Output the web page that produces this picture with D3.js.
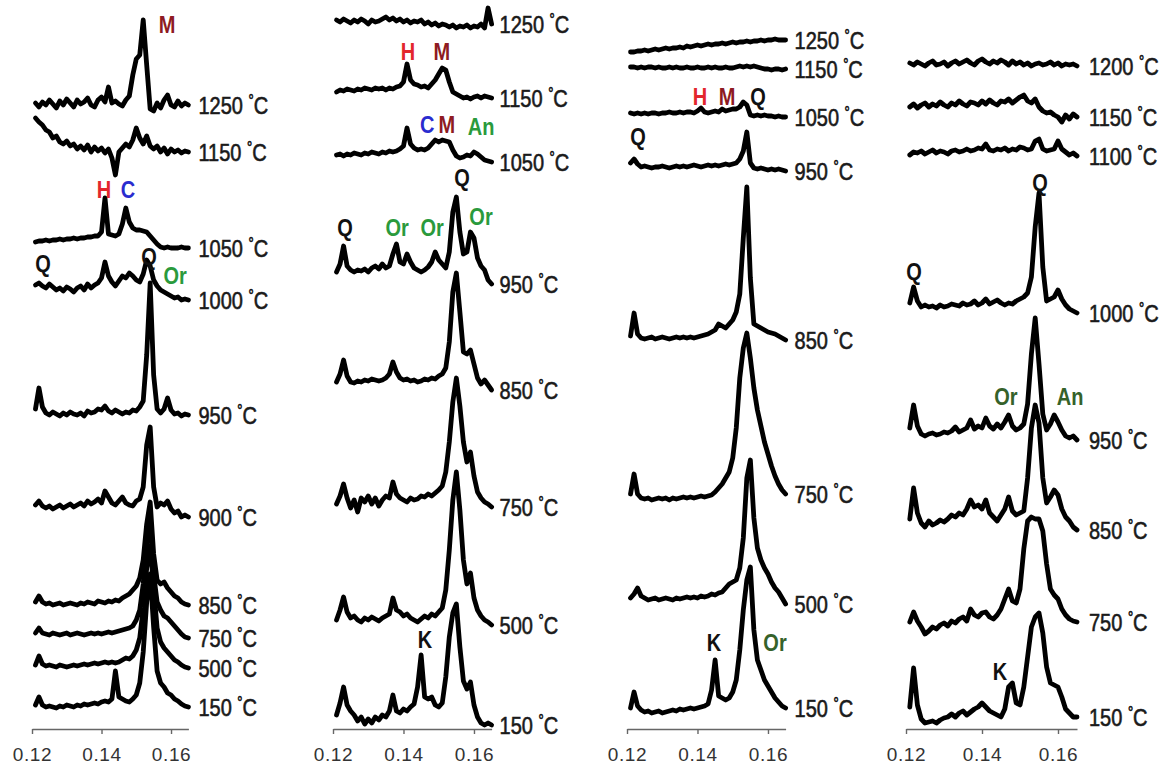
<!DOCTYPE html>
<html>
<head>
<meta charset="utf-8">
<script src="https://cdn.jsdelivr.net/npm/d3@7/dist/d3.min.js"></script>
<style>
body { margin: 0; background: #fff; }
.axis path, .axis line { stroke: #666; stroke-width: 1.4; }
.axis text { font-family: "Liberation Sans", Arial, sans-serif; font-size: 19px; fill: #333; letter-spacing: 0.6px; }
.curve { fill: none; stroke: #000; stroke-width: 4.8; stroke-linejoin: round; stroke-linecap: round; }
.temp { font-family: "Liberation Sans", Arial, sans-serif; font-size: 20px; fill: #1a1a1a; stroke: #1a1a1a; stroke-width: 0.5; }
.mineral { font-family: "Liberation Sans", Arial, sans-serif; font-size: 20px; font-weight: bold; }
</style>
</head>
<body>
<div class="chart"></div>
<script>
// sample positions (q), shared by every curve
var qGrid = [0.121,0.122,0.123,0.124,0.125,0.126,0.127,0.128,0.129,0.130,0.131,0.132,0.133,0.134,0.135,
             0.136,0.137,0.138,0.139,0.140,0.141,0.142,0.143,0.144,0.145,0.146,0.147,0.148,0.149,0.150,
             0.151,0.152,0.153,0.154,0.155,0.156,0.157,0.158,0.159,0.160,0.161,0.162,0.163,0.164,0.165];
var qTicks = [0.12, 0.14, 0.16];

// ---- panel 1 ----
var p1Temps = ["1250","1150","1050","1000","950","900","850","750","500","150"];
var p1Offsets = [620,573,477,425,310,210,121,91,57,18];
var p1_1250 = [2,-2,3,0,5,1,-3,4,0,6,2,-2,5,1,3,7,0,-2,5,8,3,18,2,4,1,-1,5,9,30,46,50,85,40,-4,-6,2,-3,5,10,0,-2,4,-1,2,0];
var p1_1150 = [34,30,27,22,20,14,16,10,8,11,6,8,3,6,2,7,0,5,1,4,-1,3,-6,-23,0,4,8,5,12,24,14,8,16,6,3,6,0,4,-2,3,0,2,-1,1,0];
var p1_1050 = [6,7,7,8,7,8,8,9,8,9,9,10,9,10,10,11,11,12,12,16,50,14,13,12,14,24,40,26,20,18,18,17,16,12,8,4,1,0,1,0,0,0,1,0,0];
var p1_1000 = [15,17,14,12,16,13,10,12,9,13,11,8,12,14,10,16,12,15,17,22,38,24,18,14,19,24,22,27,24,20,18,26,40,34,20,14,10,8,6,4,2,3,0,1,0];
var p1_950 = [6,27,8,2,0,3,1,-1,2,0,3,1,0,2,-1,4,2,3,6,5,9,4,2,5,3,1,3,2,5,4,8,14,60,132,40,6,2,6,17,5,1,2,-1,1,0];
var p1_900 = [10,14,9,7,9,6,8,10,7,9,11,8,10,12,9,14,11,13,16,12,24,18,12,10,14,18,12,10,9,14,16,28,70,88,28,8,12,10,14,6,2,4,-2,0,-2];
var p1_850 = [2,8,2,0,1,-1,0,1,-1,0,1,0,-1,1,0,2,1,0,3,2,1,3,2,4,3,6,8,10,14,18,26,44,80,102,50,24,20,22,16,12,8,6,2,0,-1];
var p1_750 = [1,6,1,0,-1,1,0,-1,0,1,-1,0,1,0,-1,0,1,0,1,0,1,2,1,2,3,4,5,6,8,14,24,50,90,113,60,32,24,18,16,12,8,4,0,-3,-4];
var p1_500 = [3,12,4,2,3,2,1,3,2,1,2,3,2,3,4,3,4,5,4,5,6,5,6,5,6,8,10,9,12,18,30,60,100,122,80,40,26,20,16,12,8,6,3,1,0];
var p1_150 = [2,10,2,0,1,0,-1,1,0,2,1,0,2,1,3,2,3,4,3,5,6,5,8,36,10,8,6,5,8,12,24,55,105,133,80,36,24,20,14,12,8,6,3,1,0];
var p1Curves = [p1_1250,p1_1150,p1_1050,p1_1000,p1_950,p1_900,p1_850,p1_750,p1_500,p1_150];
// phase marks: [label, q, level]
var p1Marks = [["M",0.1589,700],["H",0.1407,535],["C",0.1476,535],["Q",0.1232,461],["Q",0.1537,468],["Or",0.1612,449]];

// ---- panel 2 ----
var p2Temps = ["1250","1150","1050","950","850","750","500","150"];
var p2Offsets = [703,629,567,453,343,223,105,8];
var p2_1250 = [2,0,3,1,-1,2,0,3,1,-2,2,0,1,3,5,2,4,1,3,0,2,-1,1,0,2,-2,0,-3,-1,-4,-2,-3,-5,-3,-6,-4,-5,-3,-6,-4,-5,-2,-6,14,-2];
var p2_1150 = [4,6,5,7,6,5,7,6,8,7,6,8,7,8,6,8,7,9,10,14,32,16,12,11,9,10,8,12,16,22,28,26,14,4,2,0,-2,-1,-3,-1,0,-2,0,-1,-2];
var p2_1050 = [3,4,2,4,3,5,4,3,5,4,6,5,4,6,5,7,6,7,9,12,30,14,10,8,9,8,10,14,18,16,18,17,16,8,2,0,1,3,2,6,4,1,-2,-3,-4];
var p2_950 = [0,8,26,6,2,0,2,1,3,0,4,6,3,8,4,6,18,28,10,8,18,10,4,2,0,2,5,10,20,12,8,4,20,60,75,40,18,20,40,34,14,6,2,-8,-12];
var p2_850 = [0,8,22,6,0,-1,1,0,2,1,3,2,1,2,4,8,20,10,4,2,3,1,2,0,1,3,2,4,3,6,8,14,40,90,109,70,30,28,32,18,4,-2,2,-3,-8];
var p2_750 = [-2,6,18,4,-6,2,-10,4,0,6,-2,4,-4,2,6,4,20,8,4,2,0,4,2,3,6,5,8,6,9,12,16,30,60,100,124,96,60,40,50,26,10,4,0,-2,-5];
var p2_500 = [0,10,23,8,2,4,0,-2,2,0,3,1,-1,2,4,6,22,10,8,4,6,2,0,-2,1,4,2,6,4,8,12,30,70,120,148,110,60,36,47,22,10,4,0,-2,-5];
var p2_150 = [2,14,30,12,6,2,-4,0,-7,-2,-6,0,-3,2,0,6,22,6,4,8,6,10,13,30,62,20,18,20,12,10,14,40,80,104,113,70,36,28,35,12,0,-6,-8,-6,-8];
var p2Curves = [p2_1250,p2_1150,p2_1050,p2_950,p2_850,p2_750,p2_500,p2_150];
var p2Marks = [["H",0.1413,673],["M",0.1509,673],["C",0.1467,600],["M",0.1523,600],["An",0.1620,598],["Q",0.1566,547],
               ["Q",0.1234,497],["Or",0.1382,497],["Or",0.1481,497],["Or",0.1620,508],["K",0.1461,85]];

// ---- panel 3 ----
var p3Temps = ["1250","1150","1050","950","850","750","500","150"];
var p3Offsets = [685,657,610,558,387,227,127,15];
var p3_1250 = [-12,-12,-11,-11,-10,-11,-10,-9,-10,-9,-8,-9,-8,-8,-7,-8,-6,-7,-6,-5,-6,-5,-4,-5,-4,-4,-3,-4,-3,-2,-3,-2,-2,-1,-2,-1,-1,0,-1,0,0,1,0,0,0];
var p3_1150 = [1,1,0,1,0,1,1,0,1,0,0,1,0,1,0,0,1,0,0,1,0,0,1,0,1,0,0,1,0,0,1,2,1,2,1,2,1,0,-1,-1,-2,-1,-1,-2,-1];
var p3_1050 = [2,1,2,1,2,1,2,2,1,2,2,3,2,2,3,2,3,3,2,4,7,3,2,3,4,3,6,4,5,6,6,8,13,10,0,-1,0,-1,0,-1,-1,-2,-1,-2,-2];
var p3_950 = [4,8,3,0,1,0,-1,0,0,1,0,-1,0,1,0,1,0,1,2,1,0,1,2,1,2,1,2,3,2,3,4,8,16,35,4,-1,-2,-1,-2,-3,-2,-3,-2,-3,-4];
var p3_850 = [2,25,4,0,-1,0,1,-1,0,1,0,-1,0,1,0,1,0,1,0,1,2,3,4,6,8,14,12,10,14,18,26,44,100,151,60,14,12,10,8,6,5,4,2,0,-2];
var p3_750 = [4,24,4,0,-1,0,-2,-1,0,-1,0,-2,0,-1,0,1,0,1,0,1,2,1,2,3,6,10,14,20,26,40,70,120,150,165,140,110,88,72,56,44,32,22,14,8,4];
var p3_500 = [0,4,10,2,0,-2,-1,0,-2,-1,0,-1,-2,0,-1,0,1,0,1,0,2,1,2,4,3,5,6,10,14,16,18,30,60,120,138,80,50,38,30,24,16,10,6,0,-6];
var p3_150 = [2,18,4,0,-2,-1,-3,-2,-1,-3,-2,-1,0,-1,1,0,1,2,1,2,3,4,6,20,50,14,12,10,12,18,30,60,100,130,143,80,50,40,30,24,18,12,8,4,2];
var p3Curves = [p3_1250,p3_1150,p3_1050,p3_950,p3_850,p3_750,p3_500,p3_150];
var p3Marks = [["H",0.1407,628],["M",0.1484,628],["Q",0.1572,628],["Q",0.1231,588],["K",0.1447,82],["Or",0.1620,82]];

// ---- panel 4 ----
var p4Temps = ["1200","1150","1100","1000","950","850","750","150"];
var p4Offsets = [661,608,572,418,291,202,106,8];
var p4_1200 = [1,-1,2,0,-2,1,3,-1,0,2,-2,1,3,0,2,4,1,-1,3,5,2,0,3,1,4,2,-1,3,0,2,-1,1,-2,0,1,-1,0,2,-1,1,-2,0,-1,0,-2];
var p4_1150 = [10,13,9,12,14,10,13,11,15,12,10,14,12,16,13,11,15,14,12,16,13,17,14,12,16,15,18,14,17,20,22,16,14,18,10,6,4,5,2,0,-5,2,-2,3,0];
var p4_1100 = [-2,1,0,2,-1,1,3,0,2,1,-1,2,3,1,2,4,2,3,5,4,9,3,2,4,3,5,2,4,3,6,5,3,4,12,14,4,2,3,4,12,4,1,-2,0,-3];
var p4_1000 = [4,20,6,0,2,0,1,-1,2,0,1,3,2,1,4,2,3,6,2,4,8,3,5,7,4,2,4,3,6,8,10,14,30,80,114,40,6,8,10,17,8,2,-2,-4,-6];
var p4_950 = [6,29,8,0,-2,0,1,-1,0,2,1,3,7,2,4,6,14,5,8,6,16,8,5,10,6,12,19,8,4,6,10,30,80,116,70,20,4,10,19,12,4,-2,-4,-2,-6];
var p4_850 = [4,35,10,0,-4,2,-2,0,3,1,4,8,6,10,8,14,23,16,18,14,23,10,6,2,8,14,26,12,8,10,12,45,95,118,100,45,20,26,33,28,14,6,2,-4,-7];
var p4_750 = [-3,7,-2,-8,-15,-12,-8,-10,-6,-4,-7,-2,-4,0,2,-2,10,4,2,6,7,2,0,4,10,20,30,18,16,30,70,98,102,100,100,88,55,30,24,20,10,4,0,-2,-3];
var p4_150 = [10,49,12,-2,-6,-5,-4,-6,-3,-1,0,3,0,4,6,2,5,8,10,14,10,6,4,2,0,8,30,34,14,12,30,60,90,100,104,84,50,34,32,30,20,8,4,0,0];
var p4Curves = [p4_1200,p4_1150,p4_1100,p4_1000,p4_950,p4_850,p4_750,p4_150];
var p4Marks = [["Q",0.1553,542],["Q",0.1221,453],["Or",0.1463,328],["An",0.1632,328],["K",0.1447,53]];

// layout
var width = 1167, height = 769;
var axisY = 729;
var panels = [
  {x0: 32,  x1: 188.4, gap: 10, temps: p1Temps, offsets: p1Offsets, curves: p1Curves, marks: p1Marks, green: "#2a9a3c"},
  {x0: 333, x1: 491.6, gap: 8,  temps: p2Temps, offsets: p2Offsets, curves: p2Curves, marks: p2Marks, green: "#2a9a3c"},
  {x0: 627, x1: 785.6, gap: 9,  temps: p3Temps, offsets: p3Offsets, curves: p3Curves, marks: p3Marks, green: "#35622a"},
  {x0: 906, x1: 1077,  gap: 12, temps: p4Temps, offsets: p4Offsets, curves: p4Curves, marks: p4Marks, green: "#35622a"}
];
var markColor = {M: "#8e1b22", H: "#e3262c", C: "#2a2ccf", Q: "#111", K: "#111"};

var svg = d3.select(".chart")
            .append("svg")
            .attr("width", width)
            .attr("height", height)
            .style("background", "#fff");

// intensity (a.u.) -> screen, same for all panels
var yScale = d3.scaleLinear().domain([0, 720]).range([725, 5]);

panels.forEach(function(p) {
  var xScale = d3.scaleLinear().domain([0.12, 0.165]).range([p.x0, p.x1]);
  var g = svg.append("g");

  var xAxis = d3.axisBottom(xScale)
                .tickValues(qTicks)
                .tickFormat(d3.format(".2f"))
                .tickSize(5)
                .tickSizeOuter(0)
                .tickPadding(14);
  g.append("g")
   .attr("class", "axis")
   .attr("transform", "translate(0," + axisY + ")")
   .call(xAxis);

  p.curves.forEach(function(vals, k) {
    var off = p.offsets[k];
    var line = d3.line()
                 .x(function(d, i) { return xScale(qGrid[i]); })
                 .y(function(d) { return yScale(off + d); });
    g.append("path")
     .attr("class", "curve")
     .attr("d", line(vals));

    // temperature label, level with the end of the trace
    var ty = yScale(off + vals[vals.length - 1]);
    var t = g.append("text")
             .attr("class", "temp")
             .attr("transform", "translate(" + (p.x1 + p.gap) + "," + ty + ") scale(1,1.2)")
             .attr("dominant-baseline", "central");
    t.append("tspan").text(p.temps[k] + " ");
    t.append("tspan").attr("font-size", "13px").attr("dy", "-4").text("°");
    t.append("tspan").attr("dy", "4").text("C");
  });

  p.marks.forEach(function(m) {
    var col = (m[0] === "Or" || m[0] === "An") ? p.green : markColor[m[0]];
    g.append("text")
     .attr("class", "mineral")
     .attr("transform", "translate(" + xScale(m[1]) + "," + yScale(m[2]) + ") scale(1,1.2)")
     .attr("text-anchor", "middle")
     .attr("dominant-baseline", "central")
     .attr("fill", col)
     .text(m[0]);
  });
});
</script>
</body>
</html>
